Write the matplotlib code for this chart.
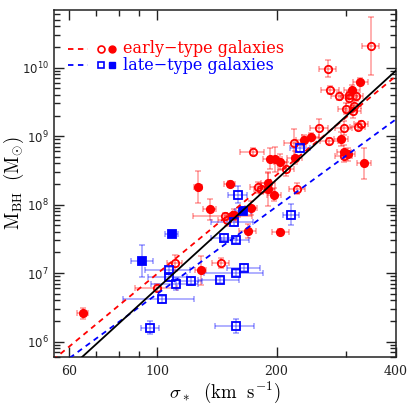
import numpy as np
import matplotlib
matplotlib.use("Agg")
import matplotlib.pyplot as plt
from matplotlib.ticker import FixedLocator, NullFormatter, LogLocator

plt.rcParams['mathtext.fontset'] = 'cm'

# early-type, filled circles: sigma (km/s), M_BH (Msun), sigma error (km/s), logM error (dex)
early_fill_sig = [65.0, 126.8, 135.6, 128.8, 152.3, 155.9, 172.7, 169.3, 192.8, 198.4, 204.6, 190.5,
                  190.5, 197.6, 204.6, 222.3, 234.3, 244.4, 290.8, 295.3, 303.4, 310.0, 325.3, 332.9]
early_fill_m = [2.6e6, 1.8e8, 8.5e7, 1.1e7, 2.0e8, 7.1e7, 8.9e7, 4.1e7, 4.7e8, 4.6e8, 4.2e8, 2.07e8,
                1.7e8, 1.4e8, 4.0e7, 4.85e8, 8.7e8, 9.7e8, 9.1e8, 5.9e8, 5.4e8, 4.7e9, 6.2e9, 4.0e8]
early_fill_dsig = [2, 3, 5, 4, 5, 6, 6, 8, 8, 8, 8, 8, 8, 8, 10, 10, 10, 12, 12, 12, 12, 14, 14, 14]
early_fill_dm = [0.08, 0.23, 0.15, 0.21, 0.05, 0.08, 0.1, 0.1, 0.15, 0.18, 0.12, 0.15,
                 0.25, 0.1, 0.04, 0.1, 0.08, 0.06, 0.1, 0.1, 0.1, 0.08, 0.05, 0.23]

# early-type, open circles
early_open_sig = [100.0, 110.8, 144.6, 148.0, 150.3, 174.0, 179.5, 183.0, 211.5, 221.1, 225.4, 256.0,
                  269.2, 273.4, 271.8, 288.0, 299.4, 295.3, 295.3, 305.2, 305.2, 317.2, 313.0, 312.0,
                  320.3, 326.6, 346.0]
early_open_m = [6.1e6, 1.4e7, 1.4e7, 6.8e7, 5.9e7, 5.9e8, 1.8e8, 1.7e8, 3.3e8, 8.0e8, 1.7e8, 1.3e9,
                9.7e9, 4.7e9, 8.5e8, 3.9e9, 2.5e9, 1.3e9, 5.1e8, 4.0e9, 3.65e9, 3.8e9, 2.8e9, 2.3e9,
                1.38e9, 1.5e9, 2.07e10]
early_open_dsig = [12, 5, 7, 25, 8, 12, 8, 8, 10, 12, 10, 13, 14, 14, 14, 14, 14, 14, 14, 14, 14, 14,
                   14, 14, 14, 14, 17]
early_open_dm = [0.05, 0.12, 0.07, 0.05, 0.08, 0.05, 0.08, 0.08, 0.1, 0.2, 0.08, 0.14, 0.13, 0.06,
                 0.05, 0.06, 0.08, 0.1, 0.08, 0.06, 0.08, 0.06, 0.1, 0.1, 0.05, 0.05, 0.42]

# late-type, open squares
late_open_sig = [96.0, 102.9, 107.0, 107.0, 111.8, 121.8, 143.8, 147.7, 155.9, 157.7, 159.6, 158.0,
                 165.8, 158.0, 217.3, 229.4]
late_open_m = [1.6e6, 4.15e6, 1.09e7, 8.7e6, 6.9e6, 7.7e6, 7.9e6, 3.3e7, 5.5e7, 3.05e7, 1.4e8, 1.0e7,
               1.2e7, 1.7e6, 7.1e7, 6.6e8]
late_open_dsig = [5, 21, 14, 12, 15, 8, 17, 11, 19, 13, 9, 27, 16, 18, 10, 13]
late_open_dm = [0.1, 0.05, 0.05, 0.05, 0.09, 0.06, 0.05, 0.05, 0.05, 0.05, 0.12, 0.05, 0.05, 0.1,
                0.15, 0.05]

# late-type, filled squares
late_fill_sig = [91.9, 108.9, 164.9]
late_fill_m = [1.5e7, 3.7e7, 8.1e7]
late_fill_dsig = [6, 4, 8]
late_fill_dm = [0.23, 0.04, 0.05]

# fits: log M = a + b log(sigma / 200)
fit_all = (8.365, 5.29)
fit_early = (8.433, 4.80)
fit_late = (7.970, 4.24)

red = '#ff0000'
blue = '#0000ff'

fig = plt.figure(figsize=(4.07, 4.07), dpi=100)
ax = fig.add_axes([0.1334, 0.1236, 0.8396, 0.8518])
ax.set_xscale('log')
ax.set_yscale('log')


def draw(sig, m, dsig, dm, color, marker, filled, ms):
    sig = np.array(sig)
    m = np.array(m)
    dm = np.array(dm)
    ylo = m - m * 10 ** (-dm)
    yhi = m * 10 ** dm - m
    ax.errorbar(sig, m, xerr=dsig, yerr=[ylo, yhi], fmt='none', ecolor=color, alpha=0.4,
                elinewidth=1.1, capsize=2.0, capthick=1.1, zorder=2)
    ax.plot(sig, m, ls='none', marker=marker, ms=ms, mec=color, mew=1.3,
            mfc=color if filled else 'none', zorder=3)


draw(early_open_sig, early_open_m, early_open_dsig, early_open_dm, red, 'o', False, 5.3)
draw(early_fill_sig, early_fill_m, early_fill_dsig, early_fill_dm, red, 'o', True, 5.3)
draw(late_open_sig, late_open_m, late_open_dsig, late_open_dm, blue, 's', False, 5.6)
draw(late_fill_sig, late_fill_m, late_fill_dsig, late_fill_dm, blue, 's', True, 6.0)

s = np.logspace(np.log10(50), np.log10(420), 200)
for (a, b), c, ls in [(fit_early, red, (0, (3, 2.5))), (fit_late, blue, (0, (3, 2.5))),
                      (fit_all, 'black', '-')]:
    ax.plot(s, 10 ** (a + b * np.log10(s / 200.0)), color=c, ls=ls, lw=1.3, zorder=4)

ax.set_xlim(55.1, 400)
ax.set_ylim(6.0e5, 6.95e10)

ax.xaxis.set_major_locator(FixedLocator([60, 100, 200, 400]))
ax.xaxis.set_minor_locator(FixedLocator([70, 80, 90, 300]))
ax.xaxis.set_major_formatter(matplotlib.ticker.FixedFormatter(['60', '100', '200', '400']))
ax.xaxis.set_minor_formatter(NullFormatter())
ax.yaxis.set_major_locator(LogLocator(base=10, numticks=20))
ax.yaxis.set_minor_locator(LogLocator(base=10, subs=np.arange(2, 10), numticks=20))
ax.yaxis.set_minor_formatter(NullFormatter())

ax.tick_params(which='both', direction='in', top=True, right=True, width=1.0, colors='#222222')
ax.tick_params(which='major', length=7)
ax.tick_params(which='minor', length=4)
ax.tick_params(axis='x', which='major', labelsize=9, pad=6)
ax.tick_params(axis='y', which='major', labelsize=8.5, pad=4)
for lab in ax.get_xticklabels():
    lab.set_family('DejaVu Serif')
for sp in ax.spines.values():
    sp.set_linewidth(1.1)
    sp.set_color('#222222')

ax.set_xlabel(r'$\sigma_*\ \ (\mathrm{km\ \ s^{-1}})$', fontsize=13.5, va='center')
ax.set_ylabel(r'$\mathrm{M_{BH}}\ \ (\mathrm{M}_{\odot})$', fontsize=13.5, va='center')
ax.xaxis.set_label_coords(0.5, -0.102)
ax.yaxis.set_label_coords(-0.118, 0.5)

# legend drawn by hand
rows = [(0.888, red, 'o', 'early\u2212type galaxies'), (0.840, blue, 's', 'late\u2212type galaxies')]
for y, c, mk, txt in rows:
    ax.plot([0.040, 0.100], [y, y], transform=ax.transAxes, color=c, ls=(0, (3, 2.5)), lw=1.3)
    ax.plot([0.138], [y], transform=ax.transAxes, marker=mk, ms=5, mec=c, mfc='none', mew=1.2)
    ax.plot([0.168], [y], transform=ax.transAxes, marker=mk, ms=5, mec=c, mfc=c)
    ax.text(0.200, y, txt, transform=ax.transAxes, color=c, fontsize=11.5,
            family='DejaVu Serif', va='center', ha='left')

fig.savefig('out.png', dpi=100)
